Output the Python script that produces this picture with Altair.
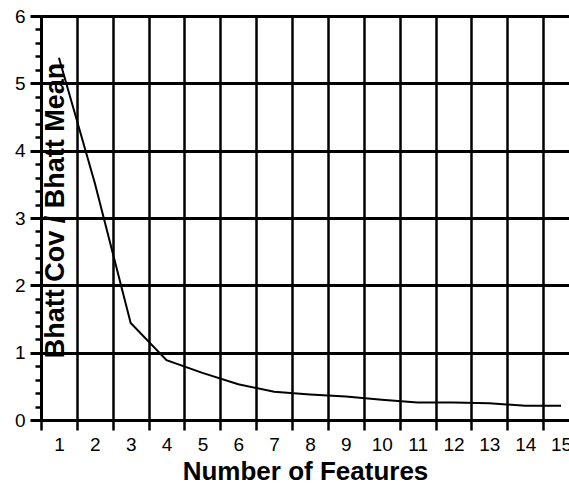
import altair as alt
import pandas as pd

# Separability ratio per number of selected features
features = list(range(1, 16))
ratio = [5.38, 3.52, 1.44, 0.89, 0.70, 0.53, 0.42, 0.38, 0.35, 0.30, 0.26, 0.26, 0.25, 0.21, 0.21]

# Axis tick positions: grid/ticks between categories, labels on them
x_tick_values = [i + 0.5 for i in range(0, 15)]
x_label_values = features
y_major = [0, 1, 2, 3, 4, 5, 6]
y_minor = [round(i * 0.2, 1) for i in range(31)]

df = pd.DataFrame({"features": features, "ratio": ratio})

FONT = "Liberation Sans"
x_scale = alt.Scale(domain=[0.5, 15.22], nice=False, zero=False)
y_scale = alt.Scale(domain=[0, 6], nice=False)

line = alt.Chart(df).mark_line(color="black", strokeWidth=2).encode(
    x=alt.X(
        "features:Q",
        scale=x_scale,
        axis=alt.Axis(
            orient="bottom", values=x_tick_values, labels=False, title=None,
            grid=True, gridColor="black", gridWidth=2.5, gridOpacity=1,
            domain=True, domainColor="black", domainWidth=3,
            ticks=True, tickColor="black", tickWidth=2.5, tickSize=10,
        ),
    ),
    y=alt.Y(
        "ratio:Q",
        scale=y_scale,
        axis=alt.Axis(
            orient="left", values=y_major,
            grid=True, gridColor="black", gridWidth=3, gridOpacity=1,
            domain=True, domainColor="black", domainWidth=3,
            ticks=True, tickColor="black", tickWidth=3, tickSize=11,
            labelFont=FONT, labelFontSize=19, labelColor="black", labelPadding=5,
            title="Bhatt Cov / Bhatt Mean", titleFont=FONT, titleFontSize=27,
            titleFontWeight="bold", titleColor="black",
            titleX=22, titleY=194, titleAngle=270,
            titleAlign="center", titleBaseline="alphabetic",
        ),
    ),
)

guides = alt.Chart(df).mark_point(opacity=0).encode(
    x=alt.X(
        "features:Q",
        scale=x_scale,
        axis=alt.Axis(
            orient="bottom", values=x_label_values, grid=False, domain=False,
            ticks=True, tickOpacity=0, tickSize=10,
            labelFont=FONT, labelFontSize=19, labelColor="black", labelPadding=5,
            labelOverlap=False, labelFlush=False,
            title="Number of Features", titleFont=FONT, titleFontSize=26,
            titleFontWeight="bold", titleColor="black",
            titleX=264, titleY=59, titleAlign="center", titleBaseline="alphabetic",
        ),
    ),
    y=alt.Y(
        "ratio:Q",
        scale=y_scale,
        axis=alt.Axis(
            orient="left", values=y_minor, grid=False, domain=False, labels=False,
            ticks=True, tickColor="black", tickWidth=2.5, tickSize=6, title=None,
        ),
    ),
)

chart = (
    alt.layer(line, guides)
    .resolve_axis(x="independent", y="independent")
    .properties(
        width=528,
        height=404,
        autosize=alt.AutoSizeParams(type="none"),
        padding={"left": 41, "top": 16, "right": 0, "bottom": 66},
        background="white",
    )
    .configure_view(stroke=None)
)

chart.save("out.html", embed_options={"renderer": "svg", "actions": False})
